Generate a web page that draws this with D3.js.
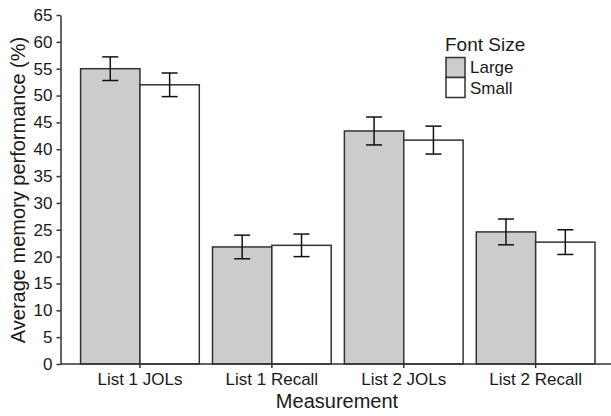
<!DOCTYPE html>
<html>
<head>
<meta charset="utf-8">
<script src="https://d3js.org/d3.v7.min.js"></script>
<style>
  body { margin: 0; background: #fff; }
  text { font-family: "Liberation Sans", Arial, sans-serif; fill: #1a1a1a; }
</style>
</head>
<body>
<svg id="chart" width="611" height="416"></svg>
<script>
// chart data
var categories = ["List 1 JOLs", "List 1 Recall", "List 2 JOLs", "List 2 Recall"];
var seriesNames = ["Large", "Small"];
var largeValues = [55.0, 21.8, 43.4, 24.6];
var smallValues = [52.0, 22.1, 41.7, 22.7];
var largeErrors = [2.2, 2.2, 2.6, 2.4];
var smallErrors = [2.2, 2.1, 2.6, 2.3];
var yTicks = [0, 5, 10, 15, 20, 25, 30, 35, 40, 45, 50, 55, 60, 65];

var svg = d3.select("#chart");
var plotLeft = 60.5, plotRight = 611, plotTop = 15, plotBottom = 364;
var fills = { Large: "#cccccc", Small: "#ffffff" };
var ink = "#333333";

var x = d3.scaleBand().domain(categories).range([74, 601.6])
    .paddingInner(0.1).paddingOuter(0.05);
var xs = d3.scaleBand().domain(seriesNames).range([0, x.bandwidth()]);
var y = d3.scaleLinear().domain([0, 65]).range([plotBottom, plotTop]);

// table built from the arrays
var rows = [];
categories.forEach(function(c, i) {
  rows.push({ cat: c, s: "Large", v: largeValues[i], e: largeErrors[i] });
  rows.push({ cat: c, s: "Small", v: smallValues[i], e: smallErrors[i] });
});

// bars
svg.append("g").selectAll("rect").data(rows).enter().append("rect")
  .attr("x", function(d) { return x(d.cat) + xs(d.s); })
  .attr("y", function(d) { return y(d.v); })
  .attr("width", xs.bandwidth())
  .attr("height", function(d) { return y(0) - y(d.v); })
  .attr("fill", function(d) { return fills[d.s]; })
  .attr("stroke", ink).attr("stroke-width", 1.5);

// error bars
var eb = svg.append("g").attr("stroke", "#111").attr("stroke-width", 1.5);
rows.forEach(function(d) {
  var cx = x(d.cat) + xs(d.s) + xs.bandwidth() / 2;
  eb.append("line").attr("x1", cx).attr("x2", cx)
    .attr("y1", y(d.v + d.e)).attr("y2", y(d.v - d.e));
  [d.v + d.e, d.v - d.e].forEach(function(v) {
    eb.append("line").attr("x1", cx - 8).attr("x2", cx + 8)
      .attr("y1", y(v)).attr("y2", y(v));
  });
});

// y axis
var yAxis = svg.append("g").attr("transform", "translate(" + plotLeft + ",0)")
  .call(d3.axisLeft(y).tickValues(yTicks).tickSize(4).tickPadding(4).tickSizeOuter(0));
yAxis.select(".domain").attr("stroke", ink).attr("stroke-width", 1.5);
yAxis.selectAll(".tick line").attr("stroke", ink).attr("stroke-width", 1.5);
yAxis.selectAll("text").style("font-size", "17px");

// x axis
var xAxis = svg.append("g").attr("transform", "translate(0," + plotBottom + ")")
  .call(d3.axisBottom(x).tickSize(4).tickPadding(5).tickSizeOuter(0));
xAxis.select(".domain").attr("d", "M" + plotLeft + ",0H" + plotRight)
  .attr("stroke", ink).attr("stroke-width", 1.5);
xAxis.selectAll(".tick line").attr("stroke", ink).attr("stroke-width", 1.5);
xAxis.selectAll("text").style("font-size", "17px");

// axis titles
svg.append("text").attr("x", 337).attr("y", 408).attr("text-anchor", "middle")
  .style("font-size", "20px").text("Measurement");
svg.append("text").attr("transform", "translate(25,190) rotate(-90)")
  .attr("text-anchor", "middle").style("font-size", "20px")
  .text("Average memory performance (%)");

// legend
var lg = svg.append("g").attr("transform", "translate(445,0)");
lg.append("text").attr("x", 0).attr("y", 51).style("font-size", "19px").text("Font Size");
seriesNames.forEach(function(s, i) {
  lg.append("rect").attr("x", 1).attr("y", 57.5 + i * 20).attr("width", 19).attr("height", 20)
    .attr("fill", fills[s]).attr("stroke", ink).attr("stroke-width", 1.5);
  lg.append("text").attr("x", 25).attr("y", 73 + i * 21).style("font-size", "17px").text(s);
});
</script>
</body>
</html>
